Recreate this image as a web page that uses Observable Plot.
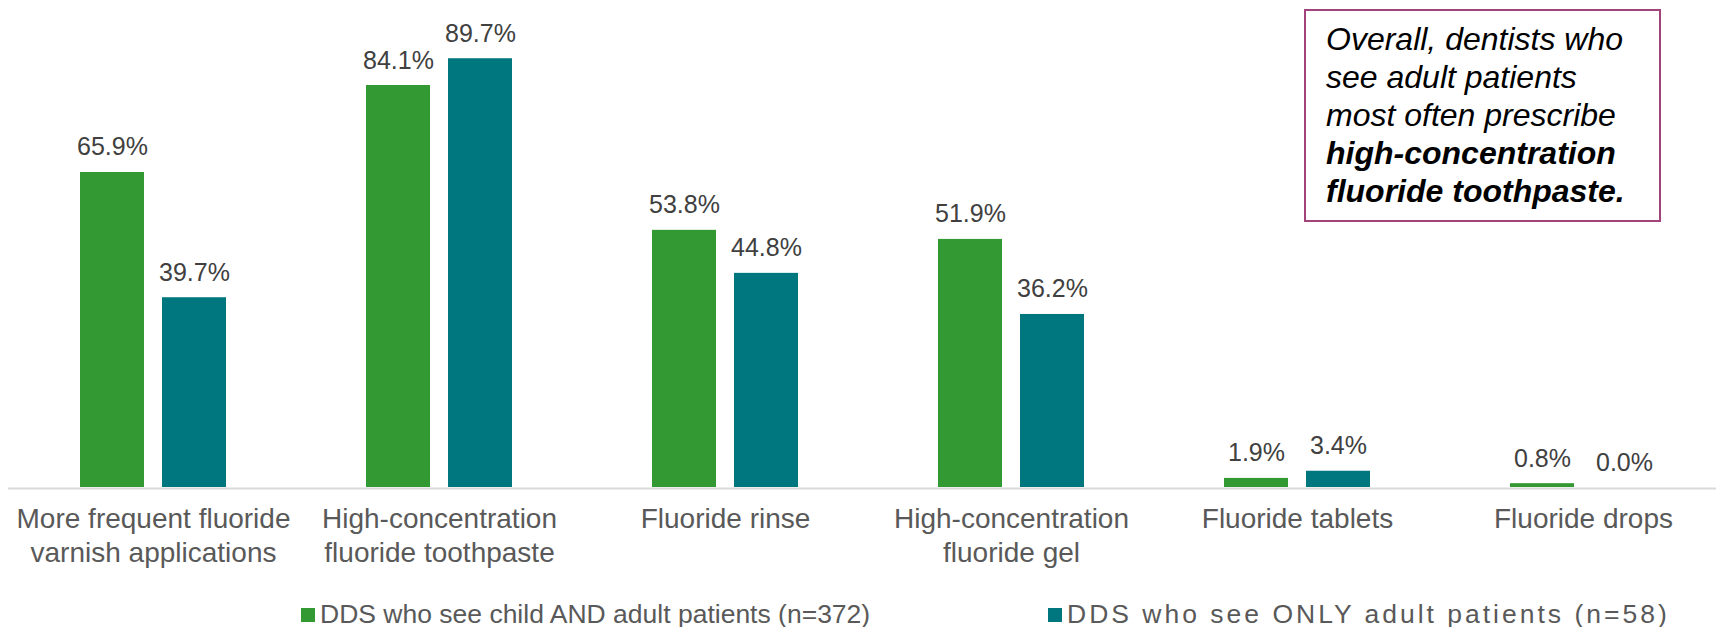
<!DOCTYPE html>
<html>
<head>
<meta charset="utf-8">
<script src="https://cdn.jsdelivr.net/npm/d3@7"></script>
<script src="https://cdn.jsdelivr.net/npm/@observablehq/plot@0.6"></script>
<style>
  html, body { margin: 0; padding: 0; background: #fff; }
  body { width: 1716px; height: 627px; overflow: hidden; font-family: "Liberation Sans", Arial, sans-serif; }
  #wrap { position: relative; width: 1716px; height: 627px; }
  #note {
    position: absolute; left: 1304px; top: 9px; width: 353px; height: 209px;
    border: 2px solid #a3437c; box-sizing: content-box;
    font-size: 32px; line-height: 38px; color: #000; font-style: italic;
    padding: 0;
  }
  #note .inner { position: absolute; left: 20px; top: 8.5px; white-space: nowrap; }
  #legend { position: relative; width: 1716px; height: 32px; font-size: 26.5px; color: #595959; }
  .item { position: absolute; top: 6px; height: 28px; white-space: nowrap; line-height: 26px; }
  .sw { position: absolute; top: 7px; width: 14px; height: 14px; }
  .lbl { position: absolute; left: 19px; top: 0; }
</style>
</head>
<body>
<div id="wrap">
  <div id="chart"></div>
  <div id="legend"></div>
  <div id="note"><div class="inner">Overall, dentists who<br>see adult patients<br>most often prescribe<br><b>high-concentration<br>fluoride toothpaste.</b></div></div>
</div>
<script>
const categories = [
  "More frequent fluoride\nvarnish applications",
  "High-concentration\nfluoride toothpaste",
  "Fluoride rinse",
  "High-concentration\nfluoride gel",
  "Fluoride tablets",
  "Fluoride drops"
];
const childAdult = [65.9, 84.1, 53.8, 51.9, 1.9, 0.8];
const adultOnly = [39.7, 89.7, 44.8, 36.2, 3.4, 0.0];
const seriesNames = [
  "DDS who see child AND adult patients (n=372)",
  "DDS who see ONLY adult patients (n=58)"
];
const seriesColors = ["#339933", "#00767f"];

const rowsA = categories.map((c, i) => ({category: c, value: childAdult[i], series: seriesNames[0]}));
const rowsB = categories.map((c, i) => ({category: c, value: adultOnly[i], series: seriesNames[1]}));
const fmt = v => d3.format(".1f")(v) + "%";

const chart = Plot.plot({
  width: 1716,
  height: 595,
  marginLeft: 8,
  marginRight: 0,
  marginTop: 0,
  marginBottom: 0,
  style: {fontFamily: "Liberation Sans, Arial, sans-serif", background: "#fff", overflow: "hidden"},
  x: {domain: categories, range: [7.6, 1728.4], paddingInner: 0.491, paddingOuter: 0.2455, axis: null},
  y: {domain: [0, 100], range: [487, 9], axis: null},
  color: {domain: seriesNames, range: seriesColors},
  marks: [
    Plot.barY(rowsA, {x: "category", y: "value", fill: "series", insetRight: 82}),
    Plot.barY(rowsB, {x: "category", y: "value", fill: "series", insetLeft: 82}),
    Plot.ruleY([0], {stroke: "#d9d9d9", strokeWidth: 2, dy: 1}),
    Plot.text(rowsA, {x: "category", y: "value", text: d => fmt(d.value), dx: -41, dy: -17, lineAnchor: "bottom", fontSize: 25, fill: "#404040"}),
    Plot.text(rowsB, {x: "category", y: "value", text: d => fmt(d.value), dx: 41, dy: -17, lineAnchor: "bottom", fontSize: 25, fill: "#404040"}),
    Plot.text(categories, {x: d => d, y: () => 0, text: d => d, dy: 17, lineAnchor: "top", lineHeight: 1.2, fontSize: 28, fill: "#595959"})
  ]
});
document.getElementById("chart").appendChild(chart);

const legend = document.getElementById("legend");
const legendLeft = [301, 1048];
const legendSpacing = ["0px", "3px"];
seriesNames.forEach((name, i) => {
  const item = document.createElement("div");
  item.className = "item";
  item.style.left = legendLeft[i] + "px";
  const sw = document.createElement("div");
  sw.className = "sw";
  sw.style.background = seriesColors[i];
  const lbl = document.createElement("div");
  lbl.className = "lbl";
  lbl.style.letterSpacing = legendSpacing[i];
  lbl.textContent = name;
  item.appendChild(sw);
  item.appendChild(lbl);
  legend.appendChild(item);
});
</script>
</body>
</html>
